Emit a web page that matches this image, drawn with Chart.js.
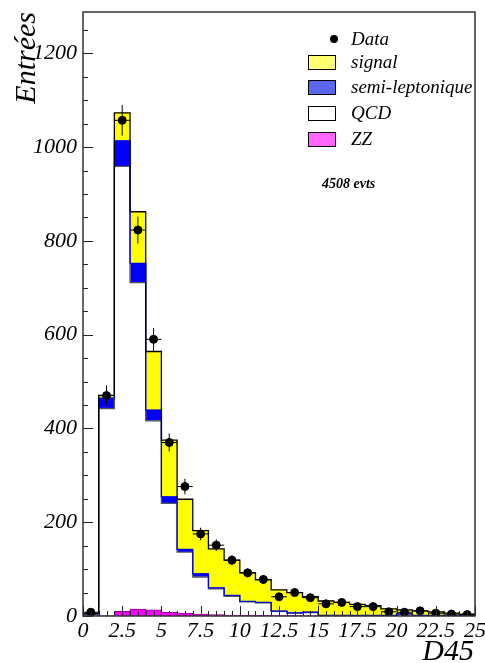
<!DOCTYPE html>
<html>
<head>
<meta charset="utf-8">
<script src="https://cdn.jsdelivr.net/npm/chart.js@4.4.0/dist/chart.umd.min.js"></script>
<style>
  html, body { margin: 0; padding: 0; background: #fff; }
  #wrap { width: 485px; height: 663px; position: relative; }
</style>
</head>
<body>
<div id="wrap"><canvas id="c"></canvas></div>
<script>
// D45 histogram, bin width 1, range 0..25
const binCenters = [0.5, 1.5, 2.5, 3.5, 4.5, 5.5, 6.5, 7.5, 8.5, 9.5, 10.5, 11.5, 12.5,
                    13.5, 14.5, 15.5, 16.5, 17.5, 18.5, 19.5, 20.5, 21.5, 22.5, 23.5, 24.5];
const zz     = [0, 0.5, 10, 15, 13, 8, 6, 4, 3, 2, 2, 1.5, 1, 1, 0.5, 0.5, 0.3, 0.3, 0.2, 0.2, 0.2, 0.1, 0.1, 0.1, 0.1];
const qcd    = [2, 442, 949, 696, 403, 232, 130, 79, 55, 40, 28, 26.5, 9, 5, 7, 0.5, 0.5, 0.5, 0.5, 0.5, 4, 0.5, 0.5, 0.5, 0.5];
const semiLep = [3, 22, 54, 41, 23, 14, 6, 7, 2, 2, 1, 1, 0.5, 0.5, 0.5, 0.5, 0.5, 0.5, 0.5, 0.5, 0.5, 0.5, 0.5, 0.3, 0.3];
const signal = [0.5, 6, 60, 110, 125, 121, 107, 92, 83, 75, 61, 48, 45, 43.5, 33, 30.5, 27.7, 23.7, 20.8, 13.8, 8.3, 9.9, 7.9, 5.1, 3.1];
const dataCounts = [8, 470, 1057, 823, 590, 370, 276, 175, 151, 119, 92, 78, 41, 50, 39, 26, 29, 20, 20, 9, 8, 11, 6, 4, 3];
const xTicks = [0, 2.5, 5, 7.5, 10, 12.5, 15, 17.5, 20, 22.5, 25];
const yTicks = [0, 200, 400, 600, 800, 1000, 1200];
const legendNames = ['Data', 'signal', 'semi-leptonique', 'QCD', 'ZZ'];
const nEvents = '4508 evts';

const X_MIN = 0, X_MAX = 25, Y_MAX = 1288;

// cumulative tops for the step outlines
const cumQcd = zz.map((v, i) => v + qcd[i]);
const cumSemi = cumQcd.map((v, i) => v + semiLep[i]);
const cumAll = cumSemi.map((v, i) => v + signal[i]);

function stepPoints(vals) {
  const pts = [{ x: X_MIN, y: 0 }];
  vals.forEach((v, i) => pts.push({ x: binCenters[i] - 0.5, y: v }));
  pts.push({ x: X_MAX, y: vals[vals.length - 1] });
  pts.push({ x: X_MAX, y: 0 });
  return pts;
}
const asXY = vals => vals.map((v, i) => ({ x: binCenters[i], y: v }));

const serif = 'Liberation Serif, Times New Roman, serif';

function barSet(label, vals, color, border) {
  return {
    type: 'bar', label: label, data: asXY(vals),
    backgroundColor: color,
    borderColor: border || color, borderWidth: border ? 1 : 0,
    barPercentage: 1, categoryPercentage: 1, order: 3
  };
}
function outline(vals, color, id) {
  return {
    type: 'line', data: stepPoints(vals), stepped: true, stack: id,
    borderColor: color, borderWidth: 1.3, pointRadius: 0, fill: false, order: 2
  };
}

const rootDecor = {
  id: 'rootDecor',
  afterDatasetsDraw(chart) {
    const { ctx, chartArea: a, scales: { x, y } } = chart;
    ctx.save();
    // data error bars
    ctx.strokeStyle = '#000';
    ctx.lineWidth = 1;
    dataCounts.forEach((n, i) => {
      const e = Math.sqrt(n);
      const px = x.getPixelForValue(binCenters[i]);
      const py = y.getPixelForValue(n);
      ctx.beginPath();
      ctx.moveTo(px, y.getPixelForValue(n + e));
      ctx.lineTo(px, y.getPixelForValue(Math.max(0, n - e)));
      ctx.moveTo(x.getPixelForValue(binCenters[i] - 0.5), py);
      ctx.lineTo(x.getPixelForValue(binCenters[i] + 0.5), py);
      ctx.stroke();
    });
    // inside ticks
    ctx.strokeStyle = '#222';
    ctx.beginPath();
    for (let v = 0; v < Y_MAX; v += 50) {
      const py = Math.round(y.getPixelForValue(v)) + 0.5;
      const len = v % 200 === 0 ? 10 : 5;
      ctx.moveTo(a.left, py); ctx.lineTo(a.left + len, py);
    }
    for (let v = X_MIN; v <= X_MAX; v += 0.5) {
      const px = Math.round(x.getPixelForValue(v)) + 0.5;
      const len = v % 2.5 === 0 ? 10 : 5;
      ctx.moveTo(px, a.bottom); ctx.lineTo(px, a.bottom - len);
    }
    ctx.stroke();
    // frame
    ctx.lineWidth = 1.5;
    ctx.strokeStyle = '#333';
    ctx.strokeRect(a.left, a.top, a.right - a.left, a.bottom - a.top);
    ctx.restore();
  },
  afterDraw(chart) {
    const ctx = chart.ctx;
    ctx.save();
    ctx.fillStyle = '#000';
    // axis titles
    ctx.font = 'italic 30px ' + serif;
    ctx.save();
    ctx.translate(35, 12);
    ctx.rotate(-Math.PI / 2);
    ctx.textAlign = 'right';
    ctx.textBaseline = 'alphabetic';
    ctx.fillText('Entrées', 0, 0);
    ctx.restore();
    ctx.textAlign = 'right';
    ctx.fillText('D45', 474, 660);
    // legend
    ctx.font = 'italic 19px ' + serif;
    ctx.textAlign = 'left';
    ctx.textBaseline = 'middle';
    const rows = [39, 62, 87, 113, 139];
    const fills = [null, '#ffff70', '#5a66ee', '#ffffff', '#ff66ff'];
    rows.forEach((ry, i) => {
      if (i === 0) {
        ctx.beginPath();
        ctx.arc(334, ry, 4, 0, Math.PI * 2);
        ctx.fill();
      } else {
        ctx.fillStyle = fills[i];
        ctx.fillRect(308, ry - 7, 28, 14);
        ctx.strokeStyle = '#000';
        ctx.lineWidth = 1;
        ctx.strokeRect(308.5, ry - 7 + 0.5, 27, 14);
        ctx.fillStyle = '#000';
      }
      ctx.fillText(legendNames[i], 351, ry + 1);
    });
    ctx.font = 'bold italic 14px ' + serif;
    ctx.fillText(nEvents, 322, 184);
    ctx.restore();
  }
};

new Chart(document.getElementById('c'), {
  type: 'bar',
  data: {
    datasets: [
      {
        type: 'scatter', label: 'Data', data: asXY(dataCounts), stack: 'pts',
        pointRadius: 4, pointBackgroundColor: '#000', pointBorderColor: '#000', order: 0
      },
      outline(cumAll, '#000', 'o3'),
      outline(cumSemi, '#0000ee', 'o2'),
      outline(cumQcd, '#555', 'o1'),
      barSet('ZZ', zz, '#ff00ff', '#8a008a'),
      barSet('QCD', qcd, '#ffffff'),
      barSet('semi-leptonique', semiLep, '#0000ff'),
      barSet('signal', signal, '#ffff00')
    ]
  },
  options: {
    responsive: true,
    maintainAspectRatio: false,
    animation: false,
    layout: { padding: { top: 12, right: 10, left: 0, bottom: 0 } },
    plugins: { legend: { display: false }, tooltip: { enabled: false } },
    scales: {
      x: {
        type: 'linear', min: X_MIN, max: X_MAX, stacked: true, offset: false,
        afterFit: s => { s.height = 47; s.paddingLeft = 0; s.paddingRight = 0; },
        afterBuildTicks: s => { s.ticks = xTicks.map(v => ({ value: v })); },
        grid: { display: false, drawTicks: false },
        border: { display: false },
        ticks: {
          autoSkip: false, maxRotation: 0, padding: 2, color: '#000',
          callback: v => String(v),
          font: { family: serif, style: 'italic', size: 22 }
        }
      },
      y: {
        type: 'linear', min: 0, max: Y_MAX, stacked: true,
        afterFit: s => { s.width = 83; s.paddingTop = 0; s.paddingBottom = 0; },
        afterBuildTicks: s => { s.ticks = yTicks.map(v => ({ value: v })); },
        grid: { display: false, drawTicks: false },
        border: { display: false },
        ticks: {
          padding: 6, color: '#000',
          callback: v => String(v),
          font: { family: serif, style: 'italic', size: 22 }
        }
      }
    }
  },
  plugins: [rootDecor]
});
</script>
</body>
</html>
